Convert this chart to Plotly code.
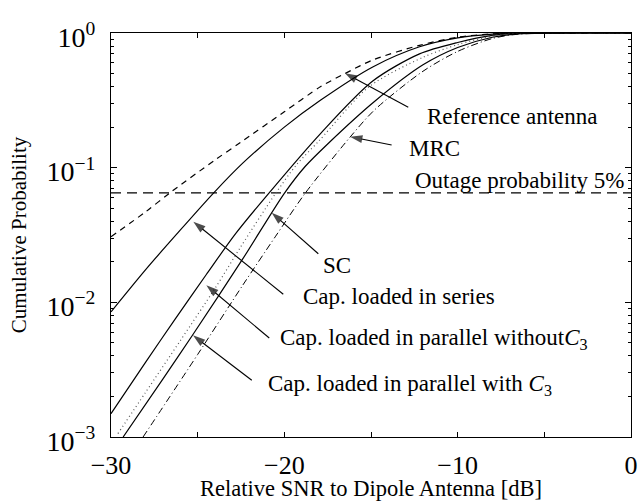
import plotly.graph_objects as go

# ---- data ----
snr_ref = [-30, -28, -26.6, -24, -22.5, -20, -17.9, -16.5, -14.9, -12.2, -10, -8, -6, 0]
p_ref = [0.0307, 0.047, 0.065, 0.114, 0.155, 0.26, 0.40, 0.50, 0.63, 0.81, 0.93, 0.985, 1.0, 1.0]

snr_ser = [-30, -28, -26.2, -24.1, -22.4, -20, -17.9, -14.9, -12.2, -10, -8, -6.5, 0]
p_ser = [0.0085, 0.0175, 0.0322, 0.0645, 0.108, 0.20, 0.318, 0.56, 0.79, 0.92, 0.98, 1.0, 1.0]

snr_par = [-30, -28, -26.3, -24.5, -22.8, -20.9, -17.9, -14.9, -12.2, -10, -8, -6.5, 0]
p_par = [0.00149, 0.0036, 0.0075, 0.0161, 0.0325, 0.0645, 0.18, 0.44, 0.70, 0.85, 0.96, 0.995, 1.0]

snr_sc = [-29.6, -28, -26, -24, -22.5, -20.5, -19.3, -18, -15.1, -12, -10, -8, -6.5, 0]
p_sc = [0.00106, 0.00215, 0.0052, 0.0127, 0.026, 0.0645, 0.105, 0.158, 0.40, 0.66, 0.82, 0.95, 0.99, 1.0]

snr_pc3 = [-29.3, -27, -25.3, -22.4, -20, -18.8, -17.5, -14.8, -12, -10, -8, -6.5, 0]
p_pc3 = [0.0010, 0.0027, 0.0057, 0.0210, 0.0645, 0.102, 0.150, 0.31, 0.58, 0.78, 0.93, 0.985, 1.0]

snr_mrc = [-28.15, -25, -22.4, -20.5, -18.8, -16.2, -14.8, -12, -10, -8, -6.5, 0]
p_mrc = [0.0010, 0.0041, 0.0134, 0.031, 0.0645, 0.169, 0.268, 0.52, 0.73, 0.91, 0.98, 1.0]

outage_level = 0.065
outage_x = [-30, 0]

x_tickvals = [-30, -20, -10, 0]
x_ticktext = ["\u221230", "\u221220", "\u221210", "0"]
y_tickvals = [1e-3, 1e-2, 1e-1, 1]
y_ticktext = ["10<sup>\u22123</sup>", "10<sup>\u22122</sup>", "10<sup>\u22121</sup>", "10<sup>0</sup>"]
y_minor = [m * 10.0 ** e for e in (-3, -2, -1) for m in range(2, 10)]

# label: (text, text_x, text_log10y, tip_x, tip_log10y, tail_x, tail_log10y)
labels = [
    ("Reference antenna", -11.88, -0.62, -16.50, -0.299, -12.85, -0.552),
    ("MRC", -12.90, -0.856, -16.21, -0.770, -13.81, -0.832),
    ("SC", -17.88, -1.725, -20.73, -1.334, -18.04, -1.639),
    ("Cap. loaded in series", -19.04, -1.96, -25.25, -1.401, -20.06, -1.940),
    ("Cap. loaded in parallel without<i>C</i><sub>3</sub>", -20.38, -2.27, -24.50, -1.873, -20.87, -2.265),
    ("Cap. loaded in parallel with <i>C</i><sub>3</sub>", -21.06, -2.616, -25.27, -2.245, -21.88, -2.579),
]
outage_text = ("Outage probability 5%", -12.59, -1.092)

serif = "Liberation Serif, Times New Roman, serif"

fig = go.Figure()
lw = 1.2
fig.add_trace(go.Scatter(x=outage_x, y=[outage_level, outage_level], mode="lines",
                         line=dict(color="black", width=1.1, dash="10px,6px"), hoverinfo="skip"))
fig.add_trace(go.Scatter(x=snr_ref, y=p_ref, mode="lines", name="Reference antenna",
                         line=dict(color="black", width=lw, dash="6px,5px", shape="spline", smoothing=0.8)))
fig.add_trace(go.Scatter(x=snr_ser, y=p_ser, mode="lines", name="Cap. loaded in series",
                         line=dict(color="black", width=lw, shape="spline", smoothing=0.8)))
fig.add_trace(go.Scatter(x=snr_par, y=p_par, mode="lines", name="Cap. loaded in parallel without C3",
                         line=dict(color="black", width=lw, shape="spline", smoothing=0.8)))
fig.add_trace(go.Scatter(x=snr_sc, y=p_sc, mode="lines", name="SC",
                         line=dict(color="#555555", width=1.2, dash="1px,3px", shape="spline", smoothing=0.8)))
fig.add_trace(go.Scatter(x=snr_pc3, y=p_pc3, mode="lines", name="Cap. loaded in parallel with C3",
                         line=dict(color="black", width=lw, shape="spline", smoothing=0.8)))
fig.add_trace(go.Scatter(x=snr_mrc, y=p_mrc, mode="lines", name="MRC",
                         line=dict(color="black", width=1.0, dash="7px,3px,1px,3px", shape="spline", smoothing=0.8)))

# arrows: line from tail to tip with an arrow-head marker at the tip
for text, tx, ty, hx, hy, sx, sy in labels:
    fig.add_trace(go.Scatter(
        x=[sx, hx], y=[10 ** sy, 10 ** hy], mode="lines+markers", hoverinfo="skip",
        line=dict(color="black", width=1.1),
        marker=dict(symbol="arrow", angleref="previous", size=[0, 13], color="black",
                    line=dict(width=0)),
    ))

annotations = []
for text, tx, ty, hx, hy, sx, sy in labels:
    annotations.append(dict(x=tx, y=ty, xref="x", yref="y", text=text, showarrow=False,
                            xanchor="left", yanchor="middle", font=dict(family=serif, size=23, color="black")))
annotations.append(dict(x=outage_text[1], y=outage_text[2], xref="x", yref="y", text=outage_text[0],
                        showarrow=False, xanchor="left", yanchor="middle",
                        font=dict(family=serif, size=23, color="black")))

fig.update_layout(
    width=644, height=501,
    margin=dict(l=111, r=13, t=33, b=64),
    paper_bgcolor="white", plot_bgcolor="white",
    showlegend=False,
    annotations=annotations,
    font=dict(family=serif, color="black"),
)
fig.update_xaxes(
    range=[-30, 0], tickvals=x_tickvals, ticktext=x_ticktext, automargin=False,
    ticks="inside", ticklen=5, tickwidth=1, tickcolor="black",
    minor=dict(dtick=5, ticks="inside", ticklen=5, tickwidth=1, tickcolor="black", showgrid=False),
    showline=True, linecolor="black", linewidth=1.3, mirror="ticks",
    showgrid=False, zeroline=False,
    tickfont=dict(family=serif, size=26, color="black"), ticklabelstandoff=5,
    title=dict(text="Relative SNR to Dipole Antenna [dB]", font=dict(family=serif, size=22.5, color="black"),
               standoff=4),
)
fig.update_yaxes(
    type="log", range=[-3, 0], tickvals=y_tickvals, ticktext=y_ticktext, automargin=False,
    ticks="inside", ticklen=6, tickwidth=1, tickcolor="black",
    minor=dict(tickvals=y_minor, ticks="inside", ticklen=3, tickcolor="black", tickwidth=1, showgrid=False),
    showline=True, linecolor="black", linewidth=1.3, mirror="ticks",
    showgrid=False, zeroline=False,
    tickfont=dict(family=serif, size=28, color="black"), ticklabelstandoff=9, ticklabelshift=4,
    title=dict(text="Cumulative Probability", font=dict(family=serif, size=21, color="black"),
               standoff=14),
)

fig.write_html("out.html", config={"displayModeBar": False},
               post_script="document.body.style.margin='0px';")
